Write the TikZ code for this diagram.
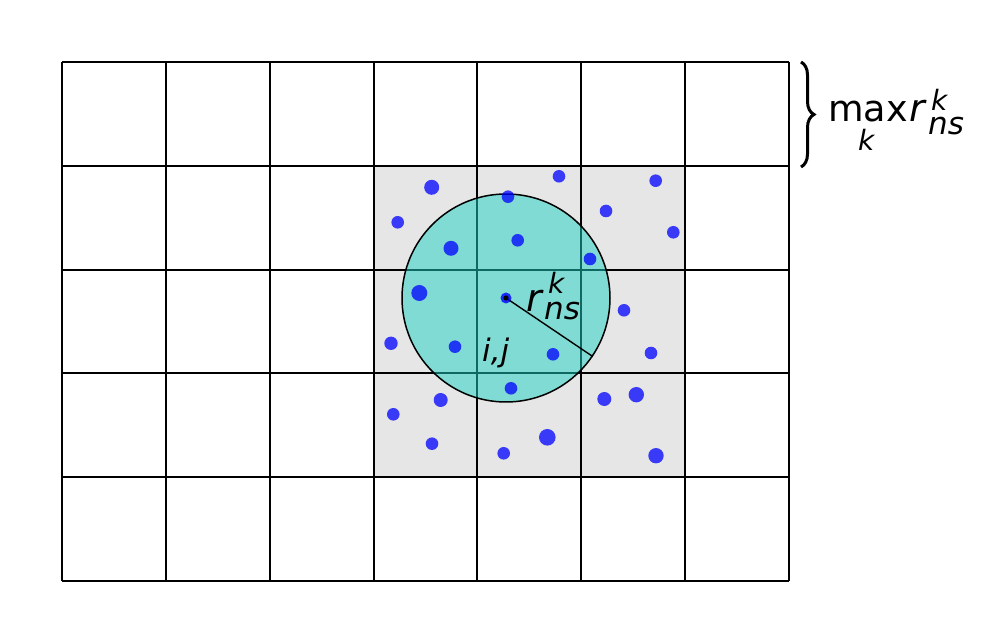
\documentclass[tikz,border=0pt]{standalone}
\usepackage{fontspec}
\setmainfont{DejaVu Sans}
\usetikzlibrary{decorations.pathreplacing}
\definecolor{dotblue}{RGB}{0,0,255}
\definecolor{tealfill}{RGB}{26,210,194}
\definecolor{cellgray}{RGB}{230,230,230}
\begin{document}
\begin{tikzpicture}[x=1pt,y=-1pt,
  gridline/.style={line width=2pt, black},
  dot/.style={fill=dotblue, opacity=0.75},
  bigtxt/.style={anchor=base west, inner sep=0pt, font=\fontsize{38}{38}\selectfont\itshape},
  uptxt/.style={anchor=base west, inner sep=0pt, font=\fontsize{36.5}{36.5}\selectfont},
  suptxt/.style={anchor=base west, inner sep=0pt, font=\fontsize{28}{28}\selectfont\itshape},
  subtxt/.style={anchor=base west, inner sep=0pt, font=\fontsize{31}{31}\selectfont\itshape},
  ijtxt/.style={anchor=base west, inner sep=0pt, font=\fontsize{31}{31}\selectfont\itshape}]
\useasboundingbox (0,0) rectangle (997,644);
% gray neighbourhood
\fill[cellgray] (374,166) rectangle (685,477);
% grid
\foreach \i in {0,...,7} \draw[gridline] ({62+\i*103.857},62) -- ({62+\i*103.857},581);
\foreach \j in {0,...,5} \draw[gridline] (62,{62+\j*103.8}) -- (789,{62+\j*103.8});
% circle
\node[circle, draw, line width=1.5pt, fill=tealfill, fill opacity=0.5, draw opacity=1,
      minimum size=208pt, inner sep=0pt] (circ) at (506,298) {};
% dots
\foreach \x/\y/\r in {431.7/187.3/7.5, 397.7/222.3/6.3, 508/196.7/6.3, 559/176.3/6.3,
  655.7/180.7/6.3, 606/211/6.3, 673.3/232.3/6.3, 451/248.3/7.5, 517.7/240.3/6.3,
  590/259/6.3, 419.3/293/8, 624/310.3/6.3, 391/343.3/6.7, 455/346.7/6.3, 553/354.3/6.3,
  651/353/6.3, 511/388.3/6.3, 440.7/400/7, 393.3/414.3/6.3, 604.3/399/7, 636.3/394.7/7.7,
  432/443.7/6.3, 503.7/453.3/6.3, 547.3/437.3/8.3, 656/455.7/7.7}
  \fill[dot] (\x,\y) circle[radius=\r pt];
% radius
\draw[line width=1.4pt] (circ.center) -- (circ.-34);
\node[circle, fill=dotblue, opacity=0.8, inner sep=0pt, minimum size=11pt] (ctr) at (circ.center) {};
\fill[black] (ctr.center) circle[radius=2.6pt];
% labels inside
\node[bigtxt] (r1) at (526,312) {r};
\node[suptxt] (k1) at (548,294) {k};
\node[subtxt] (ns1) at (544,320) {ns};
\node[ijtxt] (ij) at (482,362) {i,j};
% brace + right label
\coordinate (bt) at (801,62);
\coordinate (bb) at (801,167);
\draw[decorate, decoration={brace, amplitude=13pt}, line width=3pt] (bt) -- (bb);
\node[uptxt] (max) at (828,122) {max};
\node[suptxt] (k2) at (858,151) {k};
\node[bigtxt] (r2) at (909,122) {r};
\node[suptxt] (k3) at (931,111) {k};
\node[subtxt] (ns2) at (928,135) {ns};
\end{tikzpicture}
\end{document}
